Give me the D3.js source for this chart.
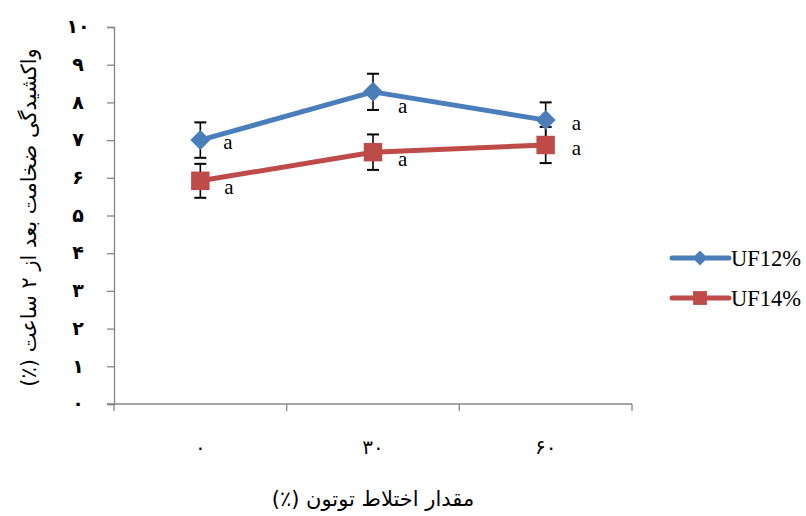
<!DOCTYPE html>
<html>
<head>
<meta charset="utf-8">
<script src="https://cdn.jsdelivr.net/npm/d3@7"></script>
<style>
  html, body { margin: 0; padding: 0; background: #fff; }
  svg { display: block; }
</style>
</head>
<body>
<svg id="chart" width="806" height="516"></svg>
<script>
const categories = ["۰", "۳۰", "۶۰"];
const seriesNames = ["UF12%", "UF14%"];
const uf12 = [7.0, 8.28, 7.53];
const uf14 = [5.92, 6.68, 6.87];
const err12 = [0.47, 0.48, 0.47];
const err14 = [0.45, 0.47, 0.48];
const sigLetters12 = ["a", "a", "a"];
const sigLetters14 = ["a", "a", "a"];
const yTickValues = [0, 1, 2, 3, 4, 5, 6, 7, 8, 9, 10];
const yTickLabels = ["۰", "۱", "۲", "۳", "۴", "۵", "۶", "۷", "۸", "۹", "۱۰"];
const yTitle = "واکشیدگی ضخامت بعد از ۲ ساعت (٪)";
const xTitle = "مقدار اختلاط توتون (٪)";

(function () {
const svg = d3.select("#chart");
const pL = 114, pR = 632, pT = 27, pB = 404;
const axisColor = "#868686";
const colors = ["#4A7EBB", "#BE4B48"];

const x = d3.scaleBand().domain(categories).range([pL, pR]).paddingInner(0).paddingOuter(0);
const y = d3.scaleLinear().domain([0, 10]).range([pB, pT]);

// Y axis
const yAxis = svg.append("g").attr("transform", `translate(${pL},0)`)
  .call(d3.axisLeft(y).tickValues(yTickValues).tickSize(7).tickFormat((d, i) => yTickLabels[i]));
yAxis.select(".domain").attr("stroke", axisColor).attr("stroke-width", 1.3);
yAxis.selectAll(".tick line").attr("stroke", axisColor).attr("stroke-width", 1.3);
yAxis.selectAll(".tick text")
  .attr("x", -36).attr("text-anchor", "middle").attr("dy", "0.3em")
  .attr("font-family", "DejaVu Sans, sans-serif").attr("font-weight", "bold")
  .attr("font-size", 19).attr("fill", "#000");

// X axis with ticks at band boundaries
const xAxisG = svg.append("g").attr("transform", `translate(0,${pB})`);
xAxisG.append("line").attr("x1", pL - 7).attr("x2", pR).attr("y1", 0).attr("y2", 0)
  .attr("stroke", axisColor).attr("stroke-width", 1.3);
const boundaries = categories.map(c => x(c)).concat([x(categories[categories.length - 1]) + x.bandwidth()]);
xAxisG.selectAll("line.tk").data(boundaries).enter().append("line")
  .attr("class", "tk").attr("x1", d => d).attr("x2", d => d).attr("y1", 0).attr("y2", 7)
  .attr("stroke", axisColor).attr("stroke-width", 1.3);
xAxisG.selectAll("text.lbl").data(categories).enter().append("text")
  .attr("x", d => x(d) + x.bandwidth() / 2).attr("y", 50)
  .attr("text-anchor", "middle")
  .attr("font-family", "DejaVu Sans, sans-serif")
  .attr("font-size", 20).attr("fill", "#000")
  .text(d => d);

// Titles
svg.append("text")
  .attr("transform", `translate(30,${(pT + pB) / 2 + 2}) rotate(-90)`)
  .attr("text-anchor", "middle").attr("dominant-baseline", "middle")
  .attr("direction", "rtl")
  .attr("font-family", "DejaVu Sans, sans-serif").attr("font-size", 21).attr("fill", "#000")
  .text(yTitle);
svg.append("text")
  .attr("x", (pL + pR) / 2).attr("y", 506)
  .attr("text-anchor", "middle").attr("direction", "rtl")
  .attr("font-family", "DejaVu Sans, sans-serif").attr("font-size", 21).attr("fill", "#000")
  .text(xTitle);

const cx = c => x(c) + x.bandwidth() / 2;
const series = [
  { name: seriesNames[0], vals: uf12, errs: err12, letters: sigLetters12, color: colors[0], shape: "diamond" },
  { name: seriesNames[1], vals: uf14, errs: err14, letters: sigLetters14, color: colors[1], shape: "square" }
];

// error bars
series.forEach(s => {
  const g = svg.append("g");
  categories.forEach((c, i) => {
    const xx = cx(c), y1 = y(s.vals[i] + s.errs[i]), y2 = y(s.vals[i] - s.errs[i]);
    g.append("line").attr("x1", xx).attr("x2", xx).attr("y1", y1).attr("y2", y2).attr("stroke", "#000").attr("stroke-width", 1.6);
    [y1, y2].forEach(yy => g.append("line").attr("x1", xx - 6).attr("x2", xx + 6).attr("y1", yy).attr("y2", yy).attr("stroke", "#000").attr("stroke-width", 2));
  });
});

// lines
const line = d3.line().x((d, i) => cx(categories[i])).y(d => y(d));
series.forEach(s => {
  svg.append("path").datum(s.vals).attr("d", line).attr("fill", "none")
    .attr("stroke", s.color).attr("stroke-width", 5).attr("stroke-linejoin", "round");
});

function marker(g, shape, xx, yy, color, scale) {
  if (shape === "diamond") {
    g.append("path").attr("d", d3.symbol(d3.symbolSquare, 200 * scale * scale)())
      .attr("transform", `translate(${xx},${yy}) rotate(45)`).attr("fill", color);
  } else {
    g.append("path").attr("d", d3.symbol(d3.symbolSquare, 340 * scale * scale)())
      .attr("transform", `translate(${xx},${yy})`).attr("fill", color);
  }
}

// markers
series.forEach(s => {
  const g = svg.append("g");
  categories.forEach((c, i) => marker(g, s.shape, cx(c), y(s.vals[i]), s.color, 1));
});

// significance letters
const letterOffsets = [
  [[29, 9], [31, 21], [32, 10]],
  [[30, 13], [31, 14], [32, 10]]
];
series.forEach((s, si) => {
  categories.forEach((c, i) => {
    svg.append("text")
      .attr("x", cx(c) + letterOffsets[si][i][0] - 6)
      .attr("y", y(s.vals[i]) + letterOffsets[si][i][1])
      .attr("font-family", "Liberation Serif, serif").attr("font-size", 21).attr("fill", "#000")
      .text(s.letters[i]);
  });
});

// legend
const legend = svg.append("g");
series.forEach((s, i) => {
  const ly = 258 + i * 40;
  legend.append("line").attr("x1", 672).attr("x2", 729).attr("y1", ly).attr("y2", ly)
    .attr("stroke", s.color).attr("stroke-width", 5).attr("stroke-linecap", "round");
  marker(legend, s.shape, 700, ly, s.color, 0.75);
  legend.append("text").attr("x", 731).attr("y", ly + 8)
    .attr("font-family", "Liberation Serif, serif").attr("font-size", 22.5).attr("fill", "#000")
    .text(s.name);
});
})();
</script>
</body>
</html>
